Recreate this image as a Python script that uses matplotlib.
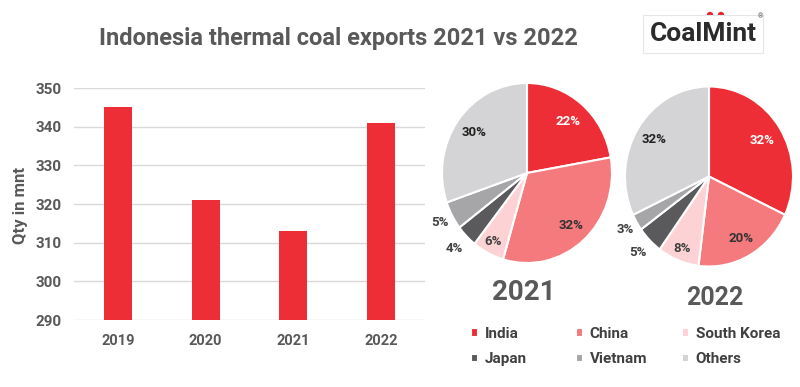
import matplotlib
matplotlib.use("Agg")
import matplotlib.pyplot as plt
import numpy as np
from matplotlib.patches import Ellipse

plt.rcParams['font.family'] = ['Roboto', 'DejaVu Sans']

# bar data
years = ['2019', '2020', '2021', '2022']
qty = [345, 321, 313, 341]

# pie data (share of exports, %)
countries = ['India', 'China', 'South Korea', 'Japan', 'Vietnam', 'Others']
share_2021 = [22, 32, 6, 4, 5, 30]
share_2022 = [32, 20, 8, 5, 3, 32]

colors = ['#EE2E36', '#F47A7E', '#FDD2D4', '#5A5A5C', '#A6A6A8', '#D4D4D6']
label_colors = ['white', '#333333', '#404040', '#404040', '#404040', '#222222']
label_r = [0.75, 0.78, 0.86, 1.2, 1.16, 0.77]
GRAY = '#595959'

W, H = 800, 387
fig = plt.figure(figsize=(8, 3.87), dpi=100)


def fx(px):
    return px / W


def fy(py):
    return 1 - py / H


# ---- bar chart ----
ax = fig.add_axes([fx(74), fy(320), fx(425) - fx(74), fy(88) - fy(320)])
ax.bar(range(len(years)), qty, width=0.32, color='#EE2E36', zorder=3)
ax.set_xlim(-0.5, 3.5)
ax.set_ylim(290, 350)
ax.set_yticks(range(290, 351, 10))
ax.set_xticks(range(len(years)))
ax.set_xticklabels(years)
ax.grid(axis='y', color='#D9D9D9', lw=1, zorder=0)
for s in ax.spines.values():
    s.set_visible(False)
ax.tick_params(axis='y', length=0, pad=9, labelsize=11, labelcolor=GRAY)
ax.tick_params(axis='x', length=0, pad=10, labelsize=10.5, labelcolor=GRAY)
for t in ax.get_xticklabels() + ax.get_yticklabels():
    t.set_fontweight('bold')
fig.text(fx(21), fy(205), 'Qty in mnt', rotation=90, ha='center', va='center',
         fontsize=12, fontweight='bold', color=GRAY)


# ---- pies ----
def draw_pie(cx, cy, rx, ry, shares):
    pax = fig.add_axes([fx(cx - rx), fy(cy + ry), 2 * rx / W, 2 * ry / H])
    wedges, _ = pax.pie(shares, colors=colors, startangle=90, counterclock=False,
                        wedgeprops=dict(edgecolor='white', linewidth=1.5))
    pax.set_aspect('auto')
    pax.set_xlim(-1, 1)
    pax.set_ylim(-1, 1)
    for i, w in enumerate(wedges):
        ang = np.deg2rad((w.theta1 + w.theta2) / 2)
        r = label_r[i]
        pax.text(r * np.cos(ang), r * np.sin(ang), f'{shares[i]}%',
                 ha='center', va='center', fontsize=9.5, fontweight='bold',
                 color=label_colors[i])
    return wedges


wedges = draw_pie(527, 173, 85, 90, share_2021)
draw_pie(709, 176.5, 84, 90, share_2022)

fig.text(fx(524), fy(293), '2021', ha='center', va='center', fontsize=20,
         fontweight='bold', color=GRAY)
fig.text(fx(715), fy(298), '2022', ha='center', va='center', fontsize=18,
         fontweight='bold', color=GRAY)

# legend: three columns, two rows
for col, xpx in enumerate([471, 576, 682]):
    idx = [col, col + 3]
    fig.legend([wedges[i] for i in idx], [countries[i] for i in idx],
               loc='upper left', bbox_to_anchor=(fx(xpx), fy(327)),
               frameon=False, handlelength=0.45, handleheight=0.45,
               handletextpad=0.45, labelspacing=0.75, borderpad=0, borderaxespad=0,
               labelcolor='#404040', prop=dict(weight='bold', size=11))

# ---- title ----
fig.text(fx(338), fy(45), 'Indonesia thermal coal exports 2021 vs 2022',
         ha='center', va='baseline', fontsize=17, fontweight='bold', color=GRAY)

# ---- logo ----
fig.text(fx(703), fy(41), 'CoalMint', ha='center', va='baseline', fontsize=19,
         fontweight='bold', color='#2B2B2B',
         bbox=dict(boxstyle='square,pad=0.25', fc='white', ec='#E6E6E6', lw=0.8))
for dx in (710, 721):
    fig.add_artist(Ellipse((fx(dx), fy(15)), 5 / W, 5 / H, color='#E8232A',
                           transform=fig.transFigure))
fig.text(fx(760), fy(17), '®', ha='center', va='center', fontsize=5, color='#555555')

fig.savefig('out.png', dpi=100)
